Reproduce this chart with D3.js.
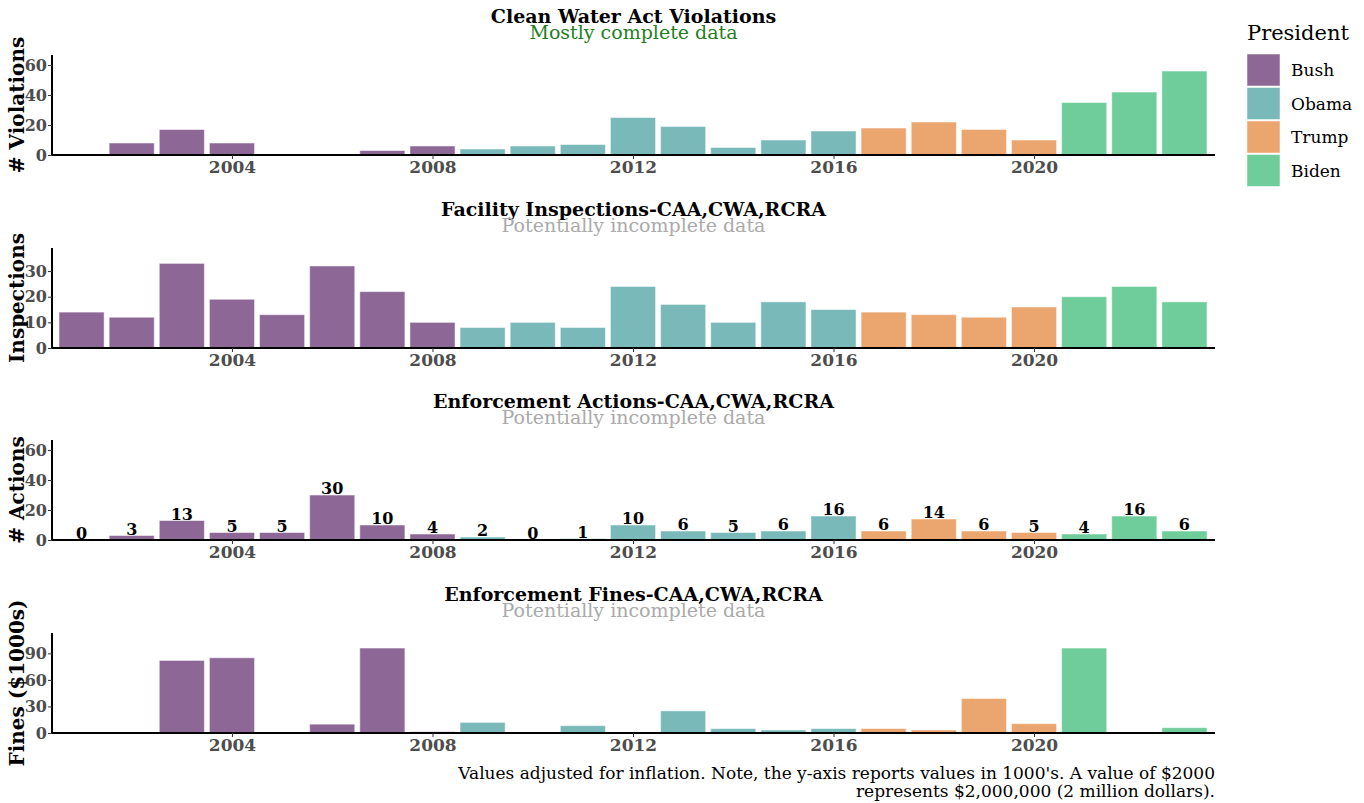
<!DOCTYPE html>
<html>
<head>
<meta charset="utf-8">
<script src="https://d3js.org/d3.v7.min.js"></script>
<style>
  body { margin: 0; background: #fff; }
  text { font-family: "DejaVu Serif", serif; }
</style>
</head>
<body>
<div id="chart"></div>
<script>
// data
var years = d3.range(2001, 2024);
var presidents = ["Bush", "Obama", "Trump", "Biden"];
var presidentOf = ["Bush","Bush","Bush","Bush","Bush","Bush","Bush","Bush",
  "Obama","Obama","Obama","Obama","Obama","Obama","Obama","Obama",
  "Trump","Trump","Trump","Trump","Biden","Biden","Biden"];
var violations = [0, 8, 17, 8, 0, 0, 3, 6, 4, 6, 7, 25, 19, 5, 10, 16, 18, 22, 17, 10, 35, 42, 56];
var inspections = [14, 12, 33, 19, 13, 32, 22, 10, 8, 10, 8, 24, 17, 10, 18, 15, 14, 13, 12, 16, 20, 24, 18];
var actions = [0, 3, 13, 5, 5, 30, 10, 4, 2, 0, 1, 10, 6, 5, 6, 16, 6, 14, 6, 5, 4, 16, 6];
var fines = [0, 0, 82, 85, 0, 10, 96, 1.5, 12, 0, 8.3, 0, 25, 5, 3.4, 5, 5, 3.4, 39, 10.6, 96, 0, 6];
var xTicks = [2004, 2008, 2012, 2016, 2020];

var colors = ["#8d6897", "#79b9b9", "#eba56f", "#6fcd9b"];

var panels = [
  {title: "Clean Water Act Violations", sub: "Mostly complete data", subColor: "#1f7f1f",
   ylab: "# Violations", values: violations, ymax: 66.7, ticks: [0, 20, 40, 60], labels: false},
  {title: "Facility Inspections-CAA,CWA,RCRA", sub: "Potentially incomplete data", subColor: "#aaaaaa",
   ylab: "Inspections", values: inspections, ymax: 39, ticks: [0, 10, 20, 30], labels: false},
  {title: "Enforcement Actions-CAA,CWA,RCRA", sub: "Potentially incomplete data", subColor: "#aaaaaa",
   ylab: "# Actions", values: actions, ymax: 66.7, ticks: [0, 20, 40, 60], labels: true},
  {title: "Enforcement Fines-CAA,CWA,RCRA", sub: "Potentially incomplete data", subColor: "#aaaaaa",
   ylab: "Fines ($1000s)", values: fines, ymax: 113, ticks: [0, 30, 60, 90], labels: false}
];

var W = 1364, H = 803;
var left = 52, right = 1215, panelH = 100;
var tops = [55, 248, 440, 633];

var svg = d3.select("#chart")
  .append("svg")
    .attr("width", W)
    .attr("height", H);

var x = d3.scaleLinear()
  .domain([2000.41, 2023.61])
  .range([left, right]);
var barW = x(2000.9) - x(2000);

var color = d3.scaleOrdinal()
  .domain(presidents)
  .range(colors);

panels.forEach(function(p, i) {
  var top = tops[i];
  var y = d3.scaleLinear()
    .domain([0, p.ymax])
    .range([top + panelH, top]);

  var g = svg.append("g");

  // titles
  g.append("text")
    .attr("x", (left + right) / 2)
    .attr("y", top - 32)
    .attr("text-anchor", "middle")
    .style("font-size", "19px")
    .style("font-weight", "bold")
    .text(p.title);
  g.append("text")
    .attr("x", (left + right) / 2)
    .attr("y", top - 16)
    .attr("text-anchor", "middle")
    .style("font-size", "19px")
    .attr("fill", p.subColor)
    .text(p.sub);

  // bars
  var data = years.map(function(yr, k) { return {year: yr, value: p.values[k], pres: presidentOf[k]}; });
  g.selectAll("rect.bar")
    .data(data)
    .enter()
    .append("rect")
      .attr("class", "bar")
      .attr("x", function(d) { return x(d.year) - barW / 2; })
      .attr("width", barW)
      .attr("y", function(d) { return y(d.value); })
      .attr("height", function(d) { return y(0) - y(d.value); })
      .attr("fill", function(d) { return color(d.pres); })
      .attr("stroke", "#fff")
      .attr("stroke-opacity", 0.5)
      .attr("stroke-width", 1);

  if (p.labels) {
    g.selectAll("text.lab")
      .data(data)
      .enter()
      .append("text")
        .attr("class", "lab")
        .attr("x", function(d) { return x(d.year); })
        .attr("y", function(d) { return y(d.value) - 1; })
        .attr("text-anchor", "middle")
        .style("font-size", "16px")
        .style("font-weight", "bold")
        .text(function(d) { return d.value; });
  }

  // y axis
  var ya = g.append("g")
    .attr("transform", "translate(" + left + ",0)")
    .call(d3.axisLeft(y).tickValues(p.ticks).tickSize(4).tickPadding(1).tickSizeOuter(0));
  ya.select(".domain").attr("stroke", "#000").attr("stroke-width", 2)
    .attr("d", "M0," + (top + panelH) + "V" + top);
  ya.selectAll(".tick line").attr("stroke", "#333");
  ya.selectAll(".tick text")
    .attr("fill", "#4d4d4d")
    .style("font-size", "16px")
    .style("font-weight", "bold")
    .style("font-family", null);

  // x axis
  var xa = g.append("g")
    .attr("transform", "translate(0," + (top + panelH) + ")")
    .call(d3.axisBottom(x).tickValues(xTicks).tickFormat(d3.format("d")).tickSize(4).tickPadding(2).tickSizeOuter(0));
  xa.select(".domain").attr("stroke", "#000").attr("stroke-width", 2)
    .attr("d", "M" + left + ",0H" + right);
  xa.selectAll(".tick line").attr("stroke", "#333");
  xa.selectAll(".tick text")
    .attr("fill", "#4d4d4d")
    .style("font-size", "17px")
    .style("font-weight", "bold")
    .style("font-family", null);

  // y label
  g.append("text")
    .attr("transform", "translate(24," + (top + panelH / 2) + ")rotate(-90)")
    .attr("text-anchor", "middle")
    .style("font-size", "20px")
    .style("font-weight", "bold")
    .text(p.ylab);
});

// legend
var leg = svg.append("g");
leg.append("text")
  .attr("x", 1247)
  .attr("y", 40)
  .style("font-size", "21px")
  .text("President");
presidents.forEach(function(name, i) {
  leg.append("rect")
    .attr("x", 1247)
    .attr("y", 54 + i * 33.5)
    .attr("width", 33)
    .attr("height", 32)
    .attr("fill", color(name))
    .attr("stroke", "#fff")
    .attr("stroke-opacity", 0.5);
  leg.append("text")
    .attr("x", 1291)
    .attr("y", 76 + i * 33.5)
    .style("font-size", "17px")
    .text(name);
});

// footnote
svg.append("text")
  .attr("x", right)
  .attr("y", 779)
  .attr("text-anchor", "end")
  .style("font-size", "17px")
  .text("Values adjusted for inflation. Note, the y-axis reports values in 1000's. A value of $2000");
svg.append("text")
  .attr("x", right)
  .attr("y", 797)
  .attr("text-anchor", "end")
  .style("font-size", "17px")
  .text("represents $2,000,000 (2 million dollars).");
</script>
</body>
</html>
